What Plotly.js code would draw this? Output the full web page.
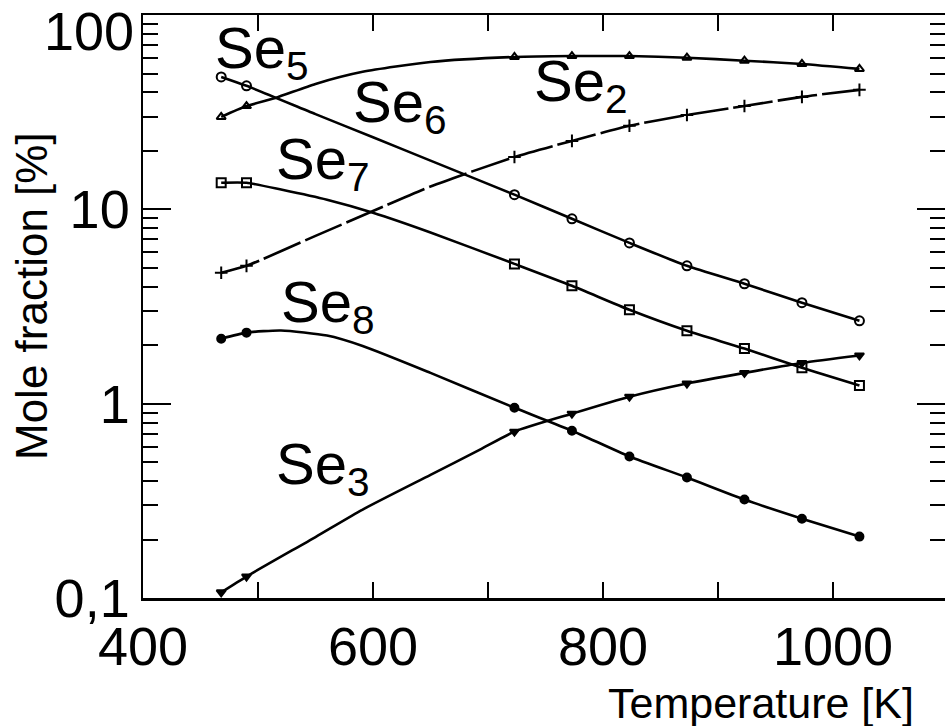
<!DOCTYPE html>
<html>
<head>
<meta charset="utf-8">
<script src="https://cdn.plot.ly/plotly-3.0.1.min.js"></script>
<style>html,body{margin:0;padding:0;background:#fff;}#chart{width:945px;height:726px;}</style>
</head>
<body>
<div id="chart"></div>
<script>
// Measured temperatures (markers)
const measuredT = [468, 490, 723, 773, 823, 873, 923, 973, 1023];

// Curves (temperature K, mole fraction %)
const se5T = [468, 490, 515, 550, 591, 650, 723, 773, 823, 873, 923, 973, 1023];
const se5V = [29.9, 34.0, 37.4, 44.2, 51.0, 57.3, 60.8, 61.5, 61.5, 60.3, 58.2, 56.0, 52.8];

const se2T = [468, 490, 550, 600, 650, 723, 773, 823, 873, 923, 973, 1023];
const se2V = [4.72, 5.12, 7.3, 9.8, 13.1, 18.6, 22.5, 26.9, 30.6, 34.0, 37.9, 41.2];

const se6T = [468, 490, 550, 600, 650, 723, 773, 823, 873, 923, 973, 1023];
const se6V = [48.0, 43.2, 30.9, 23.5, 17.8, 11.9, 8.94, 6.72, 5.12, 4.14, 3.31, 2.67];

const se7T = [468, 490, 521, 560, 600, 650, 723, 773, 823, 873, 923, 973, 1023];
const se7V = [13.7, 13.7, 12.6, 11.2, 9.6, 7.6, 5.24, 4.04, 3.04, 2.37, 1.92, 1.53, 1.24];

const se8T = [468, 490, 520, 560, 591, 650, 723, 773, 823, 873, 923, 973, 1023];
const se8V = [2.16, 2.32, 2.38, 2.24, 1.98, 1.44, 0.953, 0.726, 0.535, 0.417, 0.321, 0.256, 0.207];

const se3T = [468, 490, 550, 591, 650, 693, 723, 773, 823, 873, 923, 973, 1023];
const se3V = [0.107, 0.129, 0.206, 0.285, 0.43, 0.58, 0.718, 0.888, 1.086, 1.27, 1.44, 1.62, 1.77];

// Axis ticks
const xTickVals = [400, 500, 600, 700, 800, 900, 1000];
const xTickText = ["400", "", "600", "", "800", "", "1000"];
const yTickVals = [0.1, 1, 10, 100];
const yTickText = ["0,1", "1", "10", ""];   // "100" is drawn below its tick, as in the source
const topTickLabel = "100";

// Series labels: [text, T, log10(value)]
const labelText = ["Se<sub>5</sub>", "Se<sub>6</sub>", "Se<sub>2</sub>", "Se<sub>7</sub>", "Se<sub>8</sub>", "Se<sub>3</sub>"];
const labelT    = [461, 581, 738, 514, 518, 514];
const labelLogY = [1.812, 1.532, 1.640, 1.239, 0.504, -0.329];

const FONT = "Liberation Sans, Arial, sans-serif";
const series = [
  {name: "Se5", T: se5T, V: se5V, symbol: "triangle-up-open", size: 8, dash: "solid"},
  {name: "Se2", T: se2T, V: se2V, symbol: "cross-thin-open", size: 9, dash: "40px,5px"},
  {name: "Se6", T: se6T, V: se6V, symbol: "circle-open", size: 9, dash: "solid"},
  {name: "Se7", T: se7T, V: se7V, symbol: "square-open", size: 9, dash: "solid"},
  {name: "Se8", T: se8T, V: se8V, symbol: "circle", size: 8, dash: "solid"},
  {name: "Se3", T: se3T, V: se3V, symbol: "triangle-down", size: 8, dash: "solid"}
];

const traces = [];
series.forEach(s => {
  traces.push({
    x: s.T, y: s.V, mode: "lines", type: "scatter", name: s.name,
    line: {color: "#000", width: 2.6, shape: "spline", smoothing: 0.6, dash: s.dash},
    hoverinfo: "skip", showlegend: false
  });
  const mx = [], my = [];
  s.T.forEach((t, i) => { if (measuredT.includes(t)) { mx.push(t); my.push(s.V[i]); } });
  traces.push({
    x: mx, y: my, mode: "markers", type: "scatter", name: s.name + " points",
    marker: {symbol: s.symbol, size: s.size, color: "#000", line: {color: "#000", width: 2}},
    showlegend: false
  });
});

const annotations = labelText.map((t, i) => ({
  text: t, x: labelT[i], y: labelLogY[i], xref: "x", yref: "y",
  xanchor: "left", yanchor: "middle", showarrow: false,
  font: {family: FONT, size: 58, color: "#000"}
}));
annotations.push({
  text: topTickLabel, xref: "paper", yref: "paper",
  x: (136 - 143) / 802, y: (598 - 31) / 583, xanchor: "right", yanchor: "middle",
  showarrow: false, font: {family: FONT, size: 54, color: "#000"}
});
annotations.push({
  text: "Mole fraction [%]", xref: "paper", yref: "paper",
  x: (31 - 143) / 802, y: (598 - 296) / 583, xanchor: "center", yanchor: "middle",
  textangle: -90, showarrow: false, font: {family: FONT, size: 44, color: "#000"}
});
annotations.push({
  text: "Temperature [K]", xref: "paper", yref: "paper",
  x: (916 - 143) / 802, y: (598 - 703) / 583, xanchor: "right", yanchor: "middle",
  showarrow: false, font: {family: FONT, size: 43, color: "#000"}
});

const layout = {
  width: 945, height: 726,
  margin: {l: 143, r: 0, t: 15, b: 128, pad: 0},
  paper_bgcolor: "#fff", plot_bgcolor: "#fff",
  font: {family: FONT, color: "#000"},
  showlegend: false,
  xaxis: {
    range: [400, 1097.4], showgrid: false, zeroline: false,
    showline: true, linecolor: "#000", linewidth: 2.5, mirror: "allticks",
    ticks: "inside", ticklen: 16, tickwidth: 2, tickcolor: "#000",
    tickmode: "array", tickvals: xTickVals, ticktext: xTickText,
    tickfont: {family: FONT, size: 54, color: "#000"}
  },
  yaxis: {
    type: "log", range: [-1, 2], showgrid: false, zeroline: false,
    showline: true, linecolor: "#000", linewidth: 2.5, mirror: "allticks",
    ticks: "inside", ticklen: 28, tickwidth: 2, tickcolor: "#000",
    tickmode: "array", tickvals: yTickVals, ticktext: yTickText,
    tickfont: {family: FONT, size: 54, color: "#000"},
    minor: {ticks: "inside", ticklen: 15, tickwidth: 2, tickcolor: "#000", dtick: "D1", showgrid: false}
  },
  annotations: annotations
};

Plotly.newPlot("chart", traces, layout, {staticPlot: true, displayModeBar: false});
</script>
</body>
</html>
